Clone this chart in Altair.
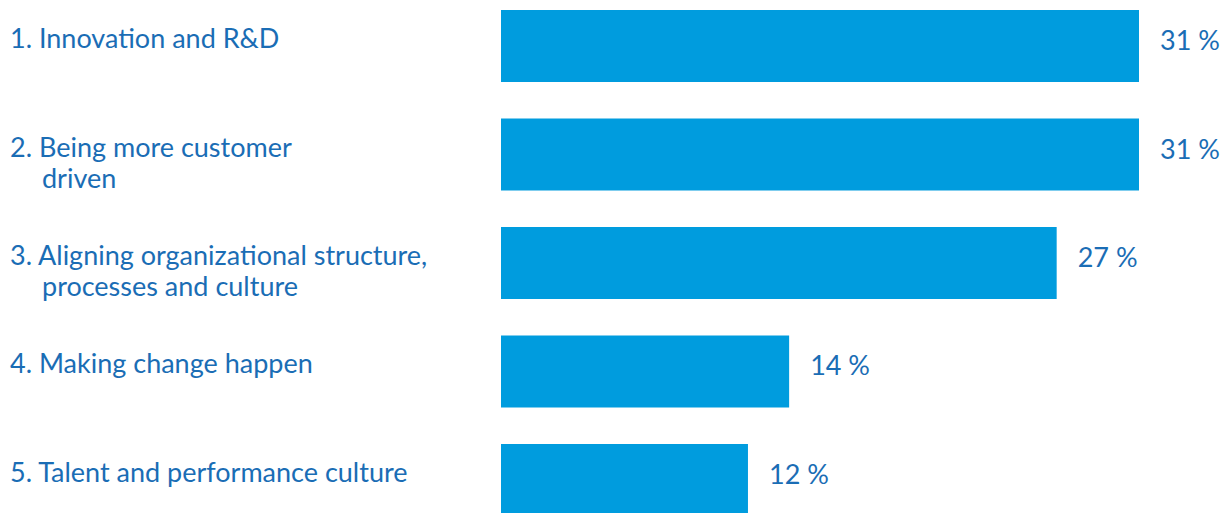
import altair as alt
import pandas as pd

categories = ["1", "2", "3", "4", "5"]
line1 = ["1. Innovation and R&D", "2. Being more customer", "3. Aligning organizational structure,",
         "4. Making change happen", "5. Talent and performance culture"]
line2 = ["", "driven", "processes and culture", "", ""]
values = [31, 31, 27, 14, 12]
value_labels = ["31 %", "31 %", "27 %", "14 %", "12 %"]

df = pd.DataFrame({"cat": categories, "l1": line1, "l2": line2, "v": values, "vl": value_labels})

BAR = "#009CDE"
TXT = "#1A6DB5"
FONT = "Lato"
FS = 27

y = alt.Y("cat:N", sort=categories, axis=None,
          scale=alt.Scale(paddingInner=0.336, paddingOuter=0.092))
x = alt.X("v:Q", axis=None, scale=alt.Scale(domain=[0, 31], nice=False, zero=True))

bars = alt.Chart(df).mark_bar(color=BAR, cornerRadius=0).encode(x=x, y=y)

vals = alt.Chart(df).mark_text(align="left", baseline="alphabetic", dx=21, dy=4,
                               font=FONT, fontSize=FS, color=TXT).encode(x=x, y=y, text="vl:N")

lab1 = alt.Chart(df).mark_text(align="left", baseline="alphabetic", dy=2,
                               font=FONT, fontSize=FS, color=TXT).encode(
    x=alt.value(-491), y=y, text="l1:N")
lab2 = alt.Chart(df).mark_text(align="left", baseline="alphabetic", dy=33,
                               font=FONT, fontSize=FS, color=TXT).encode(
    x=alt.value(-459), y=y, text="l2:N")

chart = alt.layer(bars, vals, lab1, lab2).properties(
    width=638, height=526,
    background="white",
    autosize=alt.AutoSizeParams(type="none"),
    padding={"left": 501, "top": 0, "right": 92, "bottom": 0},
).configure_view(stroke=None, strokeWidth=0)

chart.save("out.html", embed_options={"renderer": "svg", "actions": False})
